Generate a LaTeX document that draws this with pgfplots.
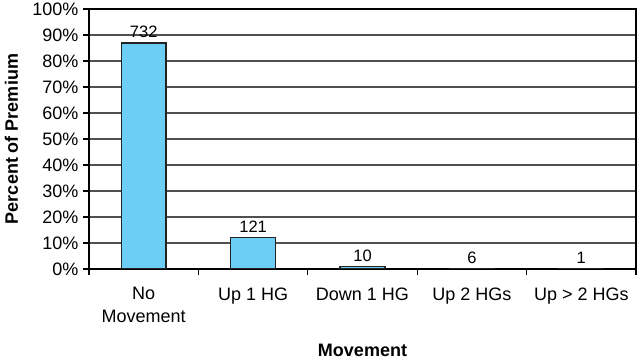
\documentclass[border=0pt]{standalone}
\usepackage{pgfplots}
\pgfplotsset{compat=1.18}
\usepackage{pgfplotstable}
\usepackage{fontspec}
\setmainfont{Liberation Sans}
\usetikzlibrary{calc}
\definecolor{barblue}{RGB}{108,205,245}
\definecolor{gridgray}{RGB}{80,80,80}
\definecolor{edge}{RGB}{35,35,35}
\pgfplotstableread{
x pct cnt
0 86.9 732
1 12.2 121
2 1.0 10
3 0.1 6
4 0.02 1
}\datatab
\begin{document}
\begin{tikzpicture}
\begin{axis}[
  name=ax,
  scale only axis,
  width=547pt, height=260pt,
  xmin=-0.5, xmax=4.5,
  ymin=0, ymax=100,
  axis line style={black, line width=1.4pt},
  xtick={0,1,2,3,4},
  xticklabels={{No\\Movement},{Up 1 HG},{Down 1 HG},{Up 2 HGs},{Up > 2 HGs}},
  minor xtick={-0.5,0.5,1.5,2.5,3.5,4.5},
  major x tick style={draw=none},
  minor tick length=6pt,
  minor x tick style={black, line width=1.2pt},
  ytick={0,10,...,100},
  yticklabel={\pgfmathprintnumber[assume math mode=true]{\tick}\%},
  major tick length=6pt,
  y tick style={black, line width=1.2pt},
  tick align=outside,
  tick pos=left,
  ymajorgrids,
  major grid style={gridgray, line width=1.2pt},
  tick label style={font=\fontsize{18}{23}\selectfont, text=black},
  xticklabel style={align=center, yshift=-9pt},
  yticklabel style={xshift=-1pt},
  ylabel={Percent of Premium},
  xlabel={Movement},
  label style={font=\fontsize{18}{20}\selectfont\bfseries},
  ylabel style={at={(axis description cs:-0.142,0.5)}, anchor=center, rotate=0},
  xlabel style={at={(axis description cs:0.5,-0.313)}, anchor=center},
  ybar, bar width=0.41,
  nodes near coords={\fontsize{16.5}{18}\selectfont\pgfplotspointmeta},
  point meta=explicit symbolic,
  every node near coord/.append style={text=black, anchor=south, yshift=1pt},
]
\addplot[fill=barblue, draw=edge, line width=1.4pt] table[x=x, y=pct, meta=cnt] {\datatab};
\end{axis}
\pgfresetboundingbox
\path ($(ax.south west)+(-89pt,-91pt)$) rectangle ($(ax.north east)+(5pt,9pt)$);
\end{tikzpicture}
\end{document}
